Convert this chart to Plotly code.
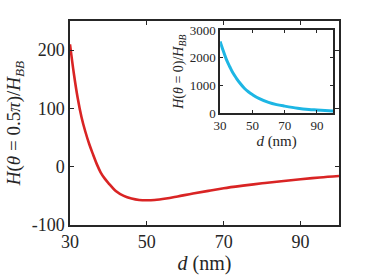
import plotly.graph_objects as go

# Main curve: H(theta=0.5pi)/H_BB vs d (nm)
d_main = [30, 31, 32, 33, 34, 35, 36, 37, 38, 39, 40, 42, 44, 46, 48, 50, 52, 55, 58, 62, 66, 70, 75, 80, 85, 90, 95, 100]
h_main = [210, 160, 118, 85, 60, 39, 21, 4, -10, -20, -28, -42, -50, -54.5, -57, -57.5, -57, -54.5, -51, -46, -41.5, -37, -32.5, -28.5, -25, -21.5, -18.5, -16]

# Inset curve: H(theta=0)/H_BB vs d (nm)
d_inset = [30, 32, 34, 36, 38, 40, 42.5, 45, 47.5, 50, 54, 60, 65, 70, 78, 85, 90, 100]
h_inset = [2600, 2250, 1930, 1680, 1450, 1270, 1070, 900, 771, 670, 530, 386, 305, 250, 175, 130, 110, 72]

main_xticks = [30, 50, 70, 90]
main_yticks = [-100, 0, 100, 200]
main_yticklabels = ["-100", "0", "100", "200"]
inset_xticks = [30, 50, 70, 90]
inset_yticks = [0, 1000, 2000, 3000]

FONT = "Liberation Serif"
AX = "#262626"

fig = go.Figure()
fig.add_trace(go.Scatter(x=d_main, y=h_main, mode="lines", line=dict(color="#D92424", width=2.6, shape="spline"),
                         xaxis="x", yaxis="y", showlegend=False))
fig.add_trace(go.Scatter(x=d_inset, y=h_inset, mode="lines", line=dict(color="#1DB6E4", width=3, shape="spline"),
                         xaxis="x2", yaxis="y2", showlegend=False))

common = dict(showline=True, linecolor=AX, linewidth=1.5, mirror="ticks", ticks="inside",
              tickcolor=AX, showgrid=False, zeroline=False, automargin=False)

fig.update_layout(
    width=374, height=280,
    margin=dict(l=70, r=35, t=21, b=55),
    paper_bgcolor="white", plot_bgcolor="white",
    font=dict(family=FONT, color="#262626"),
    xaxis=dict(domain=[0, 1], range=[30, 100], tickvals=main_xticks, ticklen=4,
               tickfont=dict(size=18, family=FONT),
               title=dict(text="<i>d</i> (nm)", font=dict(size=20, family=FONT), standoff=4), **common),
    yaxis=dict(domain=[0, 1], range=[-100, 250], tickvals=main_yticks, ticktext=main_yticklabels, ticklen=4,
               tickfont=dict(size=18, family=FONT),
               title=dict(text="<i>H</i>(<i>θ</i> = 0.5<i>π</i>)/<i>H</i><sub><i>BB</i></sub>",
                          font=dict(size=19, family=FONT), standoff=6), **common),
    xaxis2=dict(domain=[0.558, 0.978], anchor="y2", range=[30, 100], tickvals=inset_xticks, ticklen=3,
                tickfont=dict(size=13, family=FONT),
                title=dict(text="<i>d</i> (nm)", font=dict(size=15, family=FONT), standoff=2), **common),
    yaxis2=dict(domain=[0.549, 0.954], anchor="x2", range=[0, 3000], tickvals=inset_yticks, ticklen=3,
                tickfont=dict(size=13, family=FONT),
                title=dict(text="<i>H</i>(<i>θ</i> = 0)/<i>H</i><sub><i>BB</i></sub>",
                           font=dict(size=14, family=FONT), standoff=3), **common),
)

fig.write_html("out.html", config={"displayModeBar": False},
               post_script="document.body.style.margin='0';")
